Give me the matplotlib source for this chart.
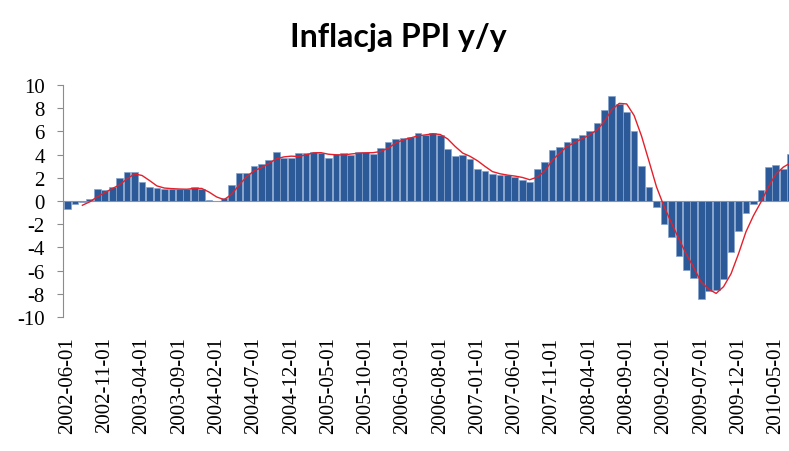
import pandas as pd
import matplotlib
matplotlib.use('Agg')
import matplotlib.pyplot as plt

# PPI y/y, monthly, starting 2002-06
start_month = '2002-06-01'
ppi_yy = [
    -0.7, -0.3, -0.1, 0.2, 1.0, 0.95, 1.25, 2.0, 2.5, 2.5,
    1.6, 1.2, 1.1, 1.05, 1.05, 1.0, 1.0, 1.25, 1.0, 0.05,
    0.0, 0.3, 1.4, 2.4, 2.4, 3.0, 3.2, 3.5, 4.2, 3.7,
    3.7, 4.1, 4.15, 4.2, 4.15, 3.75, 4.05, 4.1, 4.0, 4.25,
    4.2, 4.05, 4.55, 5.05, 5.35, 5.4, 5.55, 5.9, 5.65, 5.85,
    5.7, 4.5, 3.9, 4.0, 3.65, 2.75, 2.55, 2.3, 2.2, 2.2,
    2.05, 1.85, 1.6, 2.75, 3.35, 4.4, 4.65, 5.05, 5.4, 5.65,
    6.0, 6.7, 7.85, 9.05, 8.35, 7.7, 6.05, 3.0, 1.2, -0.55,
    -2.0, -3.1, -4.7, -5.95, -6.6, -8.45, -7.75, -7.7, -6.7, -4.4,
    -2.55, -1.0, -0.25, 0.95, 2.9, 3.1, 2.75, 4.05,
]
y_ticks = [-10, -8, -6, -4, -2, 0, 2, 4, 6, 8, 10]
label_step = 5

STYLE = {
    'bar_color': '#2C5A98',
    'bar_edge': '#86A3CC',
    'line_color': '#E3202B',
    'axis_color': '#8C8C8C',
    'tick_font': 'Liberation Serif',
    'title_font': 'Lato',
}
s = STYLE

dates = pd.date_range(start_month, periods=len(ppi_yy), freq='MS')
labels = [d.strftime('%Y-%m-%d') for d in dates]
series = pd.Series(ppi_yy)
# Excel-style moving average trendline, period 3
trend = series.rolling(3).mean()

fig = plt.figure(figsize=(7.89, 4.52), dpi=100)
ax = fig.add_axes([63 / 789, 1 - 318 / 452, 1 - 63 / 789, (318 - 86) / 452])

x = list(range(len(ppi_yy)))
ax.bar(x, ppi_yy, width=0.9, color=s['bar_color'], edgecolor=s['bar_edge'],
       linewidth=0.5, zorder=2)
ax.plot(x, trend, color=s['line_color'], linewidth=1.0, zorder=3)
ax.axhline(0, color=s['axis_color'], linewidth=0.8, zorder=1)

ax.set_ylim(-10, 10)
ax.set_xlim(-0.6, 96.77)
ax.set_yticks(y_ticks)
ax.set_yticklabels([str(v) for v in y_ticks], fontfamily=s['tick_font'], fontsize=15)
tick_pos = x[::label_step]
ax.set_xticks(tick_pos)
ax.set_xticklabels(labels[::label_step], rotation=90, fontfamily=s['tick_font'],
                   fontsize=15, va='top')

for side in ['top', 'right', 'bottom']:
    ax.spines[side].set_visible(False)
ax.spines['left'].set_color(s['axis_color'])
ax.tick_params(axis='y', length=4, color=s['axis_color'], pad=9)
ax.tick_params(axis='x', length=0, pad=14)

fig.text(0.505, 1 - 38 / 452, 'Inflacja PPI y/y', ha='center', va='center',
         fontsize=23, fontweight='bold', fontfamily=s['title_font'])

fig.savefig('out.png', dpi=100)
